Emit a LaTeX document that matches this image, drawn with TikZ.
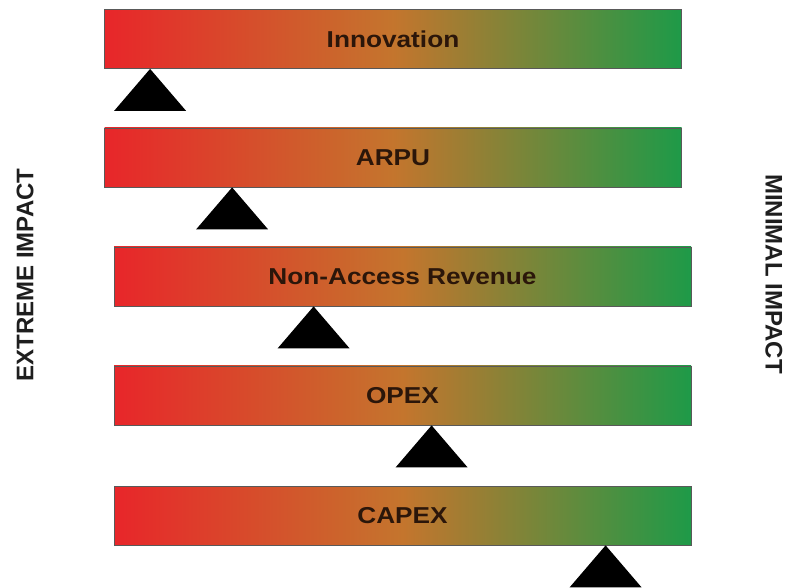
\documentclass[tikz,border=0pt]{standalone}
\usepackage{fontspec}
\setmainfont{Liberation Sans}
\newfontfamily\barfont{Liberation Sans}[FakeStretch=1.14]
\usetikzlibrary{positioning}
\definecolor{barred}{RGB}{232,38,42}
\definecolor{barmid}{RGB}{196,117,45}
\definecolor{bargreen}{RGB}{30,154,72}
\definecolor{labeltext}{RGB}{43,22,10}
\definecolor{sidetext}{RGB}{30,30,30}

\begin{document}
\begin{tikzpicture}[x=1pt, y=-1pt,
  every node/.style={align=center},
  bar/.style={rectangle, minimum width=577pt, minimum height=59pt, inner sep=0pt,
    draw=black!65, line width=0.8pt,
    left color=barred, right color=bargreen, middle color=barmid,
    font=\barfont\bfseries\fontsize{23}{27}\selectfont, text=labeltext},
  pivot/.style={fill=black},
  side/.style={font=\bfseries\fontsize{24}{28}\selectfont, text=sidetext}
]
  \useasboundingbox (0,0) rectangle (788,588);

  % Bars
  \node[bar] (innovation) at (393,39) {Innovation};
  \node[bar] (arpu) at (393,157.5) {ARPU};
  \node[bar] (nonaccess) at (402.5,276.5) {Non-Access Revenue};
  \node[bar] (opex) at (402.5,395.5) {OPEX};
  \node[bar] (capex) at (402.5,515.5) {CAPEX};

  % Pivots under the bars
  \fill[pivot] ([xshift=46pt]innovation.south west) -- ++(-36,42) -- ++(72,0) -- cycle;
  \fill[pivot] ([xshift=128pt]arpu.south west) -- ++(-36,42) -- ++(72,0) -- cycle;
  \fill[pivot] ([xshift=200pt]nonaccess.south west) -- ++(-36,42) -- ++(72,0) -- cycle;
  \fill[pivot] ([xshift=318pt]opex.south west) -- ++(-36,42) -- ++(72,0) -- cycle;
  \fill[pivot] ([xshift=492pt]capex.south west) -- ++(-36,42) -- ++(72,0) -- cycle;

  % Side labels
  \node[side, rotate=90] (extreme) at (25,275) {EXTREME IMPACT};
  \node[side, rotate=-90] (minimal) at (774,274) {MINIMAL IMPACT};
\end{tikzpicture}
\end{document}
